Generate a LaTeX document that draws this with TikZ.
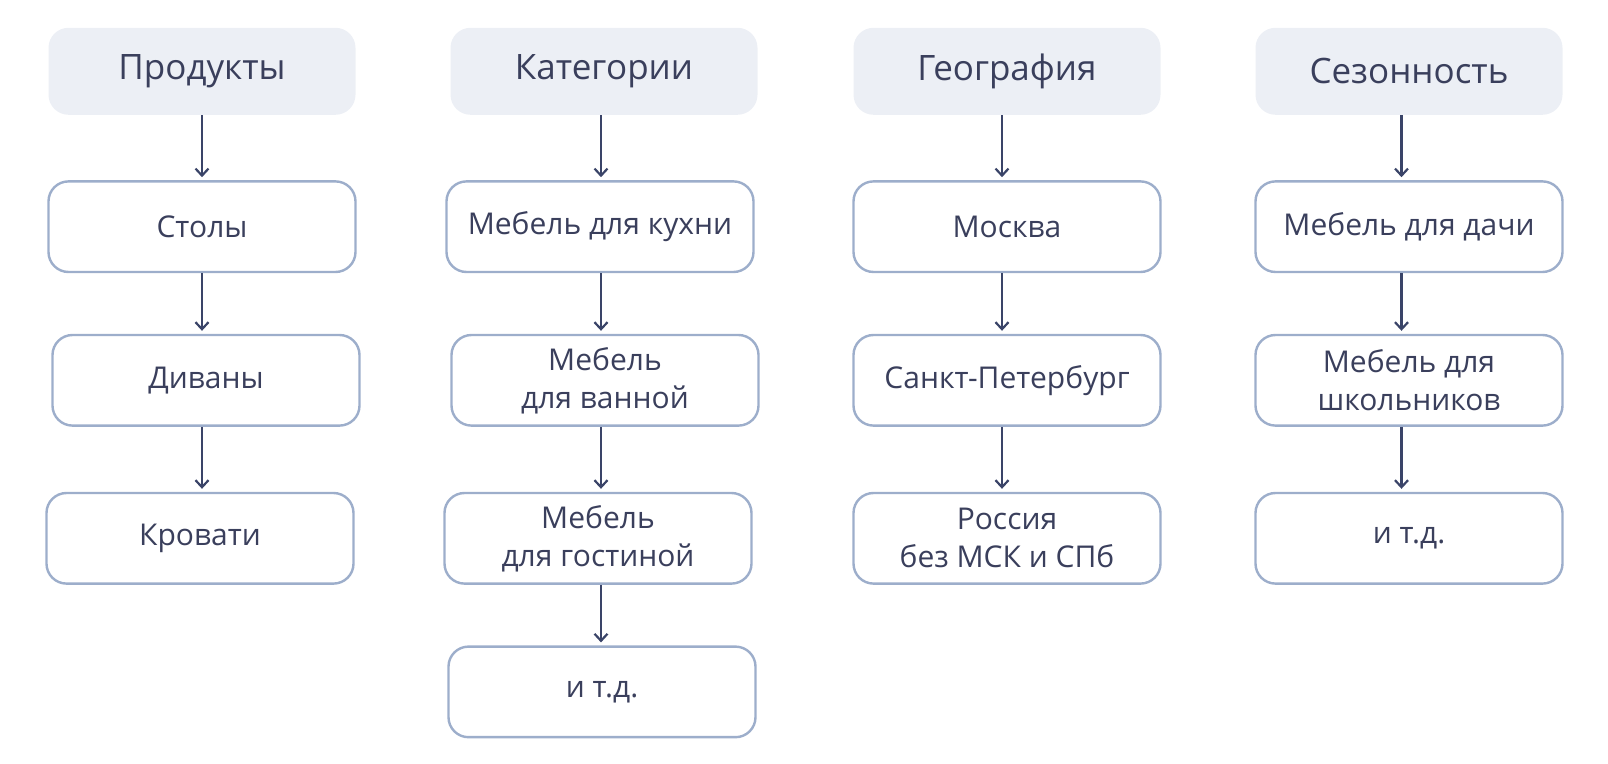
\documentclass[tikz,border=0pt]{standalone}
\usepackage{fontspec}
\setmainfont{Open Sans}
\usepackage{xcolor}
\usetikzlibrary{
	arrows.meta,
	positioning
}
\definecolor{headfill}{HTML}{ECEFF5}
\definecolor{edgeblue}{HTML}{9DAECB}
\definecolor{inkdark}{HTML}{3A3F5C}
\definecolor{arrowink}{HTML}{3A4468}

\begin{document}
\begin{tikzpicture}[
            x=0.5pt, y=-0.5pt,
            node distance=32.5pt and 0pt,
            box/.style={
                rounded corners=10pt,
                align=center,
                inner sep=2pt,
                minimum width=153.5pt,
                minimum height=45.3pt,
                text=inkdark,
                font=\fontsize{15}{19}\selectfont
            },
            head/.style={box,fill=headfill,minimum height=43.5pt,
                font=\fontsize{17.5}{21}\selectfont},
            item/.style={box,draw=edgeblue,line width=1.2pt,fill=white},
            arr/.style={-{Straight Barb[length=3.5pt,width=6.5pt]},
                draw=arrowink,line width=1.1pt,shorten >=1.5pt}
        ]
            \useasboundingbox (0,0) rectangle (1608,764);

            % column axes for the arrows
            \coordinate (ax1) at (202,0);
            \coordinate (ax2) at (601,0);
            \coordinate (ax3) at (1002,0);
            \coordinate (ax4) at (1401.5,0);

            % Продукты
            \node[head] (prod) at (202,71.3) {Продукты};
            \node[item,below=of prod] (tables) {Столы};
            \node[item,below=30.3pt of tables,xshift=2pt] (sofas) {Диваны};
            \node[item,below=of sofas,xshift=-3pt] (beds) {Кровати};

            % Категории
            \node[head] (cat) at (604,71.3) {Категории};
            \node[item,below=of cat,xshift=-2pt] (kitchen) {Мебель для кухни};
            \node[item,below=30.3pt of kitchen,xshift=2.5pt] (bath) {Мебель\\для ванной};
            \node[item,below=of bath,xshift=-3.5pt] (living) {Мебель\\для гостиной};
            \node[item,below=30.3pt of living,xshift=2pt] (catetc) {и т.д.};

            % География
            \node[head] (geo) at (1007,71.3) {География};
            \node[item,below=of geo] (msk) {Москва};
            \node[item,below=30.3pt of msk] (spb) {Санкт-Петербург};
            \node[item,below=of spb] (rus) {Россия\\без МСК и СПб};

            % Сезонность
            \node[head] (season) at (1409,71.3) {Сезонность};
            \node[item,below=of season] (dacha) {Мебель для дачи};
            \node[item,below=30.3pt of dacha] (school) {Мебель для\\школьников};
            \node[item,below=of school] (seasetc) {и т.д.};

            \draw[arr] (prod.south -| ax1) -- (tables.north -| ax1);
            \draw[arr] (tables.south -| ax1) -- (sofas.north -| ax1);
            \draw[arr] (sofas.south -| ax1) -- (beds.north -| ax1);

            \draw[arr] (cat.south -| ax2) -- (kitchen.north -| ax2);
            \draw[arr] (kitchen.south -| ax2) -- (bath.north -| ax2);
            \draw[arr] (bath.south -| ax2) -- (living.north -| ax2);
            \draw[arr] (living.south -| ax2) -- (catetc.north -| ax2);

            \draw[arr] (geo.south -| ax3) -- (msk.north -| ax3);
            \draw[arr] (msk.south -| ax3) -- (spb.north -| ax3);
            \draw[arr] (spb.south -| ax3) -- (rus.north -| ax3);

            \draw[arr] (season.south -| ax4) -- (dacha.north -| ax4);
            \draw[arr] (dacha.south -| ax4) -- (school.north -| ax4);
            \draw[arr] (school.south -| ax4) -- (seasetc.north -| ax4);
        \end{tikzpicture}
\end{document}
